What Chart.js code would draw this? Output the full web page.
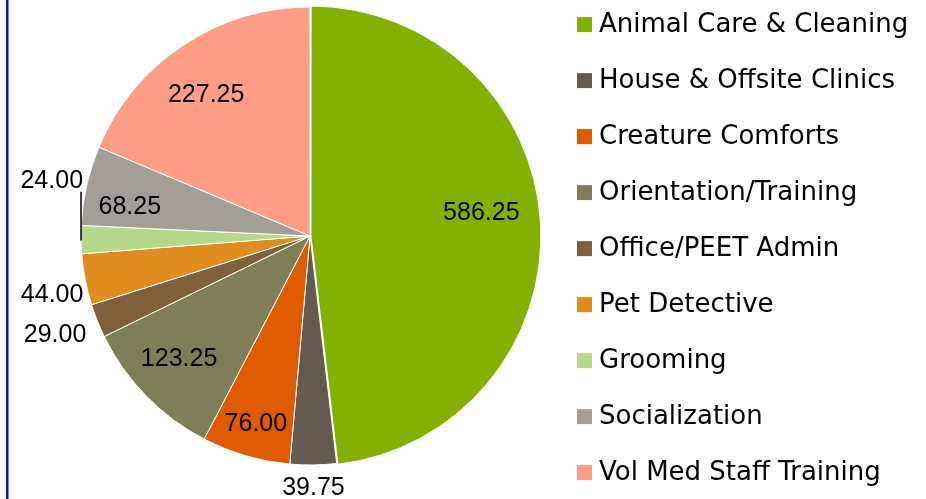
<!DOCTYPE html>
<html>
<head>
<meta charset="utf-8">
<script src="https://cdn.jsdelivr.net/npm/chart.js@4.4.0/dist/chart.umd.min.js"></script>
<style>
    html, body { margin: 0; padding: 0; background: #fff; }
    #wrap { width: 926px; height: 499px; position: relative; }
</style>
</head>
<body>
<div id="wrap"><canvas id="hoursChart" width="926" height="499"></canvas></div>
<script>
// Volunteer hours by activity
const categories = [
    'Animal Care & Cleaning',
    'House & Offsite Clinics',
    'Creature Comforts',
    'Orientation/Training',
    'Office/PEET Admin',
    'Pet Detective',
    'Grooming',
    'Socialization',
    'Vol Med Staff Training'
];
const hours = [586.25, 39.75, 76.00, 123.25, 29.00, 44.00, 24.00, 68.25, 227.25];
const sliceColors = ['#84B000', '#635B50', '#E05A00', '#7F7F57', '#80603A', '#E08C1F', '#B6D88A', '#A39F98', '#FF9E85'];

// where each value label goes: inside the slice or outside the rim
const labelSide = ['in', 'out', 'in', 'in', 'out', 'out', 'out', 'in', 'in'];
const labelNudge = [[-7, -12], [0, 9], [-4, 17], [-3, -2], [2, 9], [12, 13], [16, -59], [-6, 10], [-5, 8]];
const leaderLine = [false, false, false, false, false, false, true, false, false];

// Value labels, Excel style
const valueLabels = {
    id: 'valueLabels',
    afterDatasetsDraw(chart) {
        const ctx = chart.ctx;
        const arcs = chart.getDatasetMeta(0).data;
        ctx.save();
        ctx.font = '25px "Liberation Sans", Arial, sans-serif';
        ctx.fillStyle = '#000';
        ctx.textBaseline = 'middle';
        arcs.forEach((arc, i) => {
            const p = arc.getProps(['x', 'y', 'startAngle', 'endAngle', 'outerRadius'], true);
            const mid = (p.startAngle + p.endAngle) / 2;
            const cos = Math.cos(mid), sin = Math.sin(mid);
            const r = labelSide[i] === 'in' ? p.outerRadius * 0.78 : p.outerRadius + 14;
            let x = p.x + cos * r + labelNudge[i][0];
            let y = p.y + sin * r + labelNudge[i][1];
            if (labelSide[i] === 'in' || Math.abs(cos) < 0.3) {
                ctx.textAlign = 'center';
            } else {
                ctx.textAlign = cos < 0 ? 'right' : 'left';
            }
            ctx.fillText(hours[i].toFixed(2), x, y);
            if (leaderLine[i]) {
                const ex = p.x + cos * p.outerRadius;
                const ey = p.y + sin * p.outerRadius;
                ctx.strokeStyle = '#000';
                ctx.lineWidth = 1.5;
                ctx.beginPath();
                ctx.moveTo(ex, ey + 1);
                ctx.lineTo(ex, y + 11);
                ctx.stroke();
            }
        });
        ctx.restore();
    }
};

// Legend on the right plus the blue frame line on the left
const sideLegend = {
    id: 'sideLegend',
    afterDraw(chart) {
        const ctx = chart.ctx;
        ctx.save();
        ctx.fillStyle = '#0F0FC8';
        ctx.fillRect(6, 0, 2.5, chart.height);

        ctx.font = '26px "DejaVu Sans", sans-serif';
        ctx.textAlign = 'left';
        ctx.textBaseline = 'middle';
        categories.forEach((name, i) => {
            const cy = 24.6 + i * 56;
            ctx.fillStyle = sliceColors[i];
            ctx.fillRect(577, cy - 7.5, 15, 15);
            ctx.fillStyle = '#000';
            ctx.fillText(name, 599, cy + 1);
        });
        ctx.restore();
    }
};

document.addEventListener('DOMContentLoaded', function() {
    const ctx = document.getElementById('hoursChart');
    new Chart(ctx.getContext('2d'), {
        type: 'pie',
        data: {
            labels: categories,
            datasets: [{
                data: hours,
                backgroundColor: sliceColors,
                borderColor: '#fff',
                borderWidth: 1,
                offset: [4, 0, 0, 0, 0, 0, 0, 0, 0],
                hoverOffset: 0
            }]
        },
        options: {
            responsive: false,
            animation: false,
            layout: {
                padding: { left: 78.5, right: 384.5, top: 4.5, bottom: 31.5 }
            },
            plugins: {
                legend: { display: false },
                tooltip: { enabled: false }
            }
        },
        plugins: [valueLabels, sideLegend]
    });
});
</script>
</body>
</html>
